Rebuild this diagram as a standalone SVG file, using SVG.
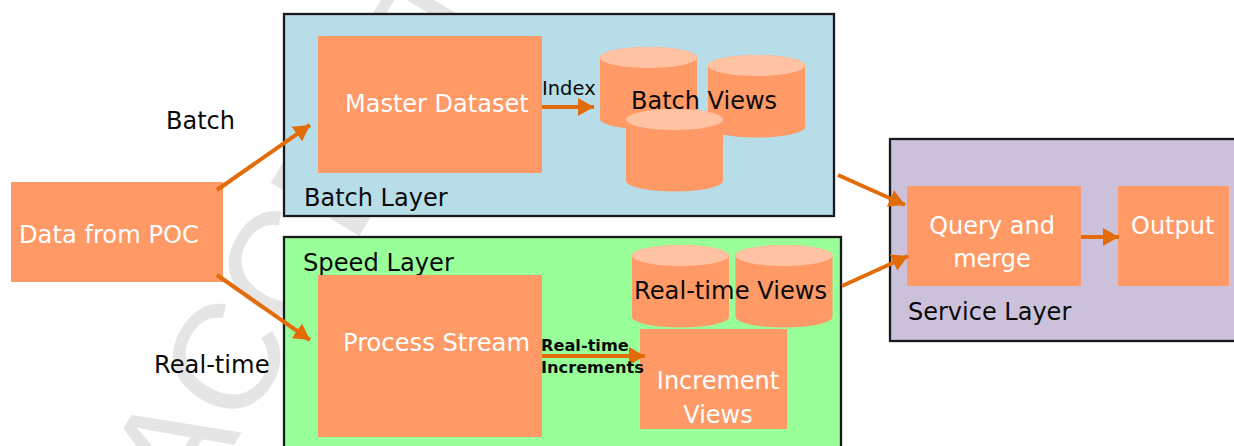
<svg xmlns="http://www.w3.org/2000/svg" width="1234" height="446" viewBox="0 0 1234 446">
<style>
text{font-family:"DejaVu Sans","Liberation Sans",sans-serif;font-size:24px;fill:#0a0a0a}
.w{fill:#fff}
.l{font-size:24.200px}
.s{font-size:19.500px}
.b{font-size:16.200px;font-weight:bold}
.layer{stroke:#1a1a1a;stroke-width:2.300}
.box{fill:#ff9966}
.top{fill:#ffc2a3}
.wm{font-family:"Liberation Sans",sans-serif;font-size:150px;fill:#e5e5e5}
.c{fill:none;stroke:#e36c0a;stroke-width:4;marker-end:url(#a)}
</style>
<defs>
<marker id="a" markerUnits="userSpaceOnUse" markerWidth="20" markerHeight="20" refX="16" refY="9" orient="auto"><path d="M0 0L16 9L0 18Z" fill="#e36c0a"/></marker>
<g id="cyl"><path class="box" d="M0 10.500A48.500 10.500 0 0 1 97 10.500V72A48.500 10.500 0 0 1 0 72Z"/><ellipse class="top" cx="48.500" cy="10.500" rx="48.500" ry="10.500"/></g>
</defs>
<rect width="1234" height="446" fill="#fff"/>
<text class="wm" transform="translate(190 518) rotate(-59)">ACCEPT</text>
<g id="batch-layer"><rect class="layer" x="284" y="14" width="550" height="202" fill="#b7dde8"/><text x="304" y="206">Batch Layer</text></g>
<g id="speed-layer"><rect class="layer" x="284" y="237" width="557" height="212" fill="#99ff99"/><text class="l" x="303" y="271">Speed Layer</text></g>
<g id="service-layer"><rect class="layer" x="890" y="139" width="350" height="202" fill="#ccc1da"/><text x="908" y="320">Service Layer</text></g>
<g id="data"><rect class="box" x="11" y="182" width="212" height="100"/><text class="w l" x="19" y="243">Data from POC</text></g>
<g id="master"><rect class="box" x="318" y="36" width="224" height="137"/><text class="w" x="345" y="112">Master Dataset</text></g>
<g id="process"><rect class="box" x="318" y="275" width="224" height="162"/><text class="w l" x="343" y="351">Process Stream</text></g>
<g id="batch-views"><use href="#cyl" x="600" y="47"/><use href="#cyl" x="708" y="55"/><use href="#cyl" x="626" y="109"/><text x="631" y="109">Batch Views</text></g>
<g id="realtime-views"><use href="#cyl" x="632" y="245"/><use href="#cyl" x="735.500" y="245"/><text class="l" x="634" y="299">Real-time Views</text></g>
<g id="increment"><rect class="box" x="640" y="329" width="147" height="100"/><text class="w" text-anchor="middle" x="718" y="389">Increment</text><text class="w" text-anchor="middle" x="718" y="423">Views</text></g>
<g id="query"><rect class="box" x="907" y="186" width="174" height="100"/><text class="w" text-anchor="middle" x="992" y="234">Query and</text><text class="w" text-anchor="middle" x="992" y="267">merge</text></g>
<g id="output"><rect class="box" x="1118" y="186" width="111" height="100"/><text class="w" x="1131" y="234">Output</text></g>
<g id="connectors">
<path class="c" d="M217 190L310 125"/>
<path class="c" d="M217 275L310 340"/>
<path class="c" d="M542 107L594 107"/>
<path class="c" d="M542 356L645 356"/>
<path class="c" d="M838 175L905 205"/>
<path class="c" d="M842 286L908 256"/>
<path class="c" d="M1081 237L1119 237"/>
</g>
<text x="166" y="129">Batch</text>
<text class="l" x="154" y="373">Real-time</text>
<text class="s" x="542" y="95">Index</text>
<text class="b" x="541" y="351">Real-time</text>
<text class="b" x="541" y="373">Increments</text>
</svg>
